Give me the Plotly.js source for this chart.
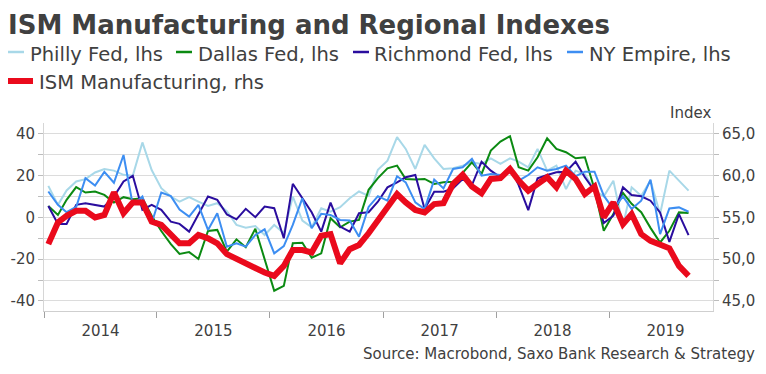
<!DOCTYPE html>
<html>
<head>
<meta charset="utf-8">
<script src="https://cdn.plot.ly/plotly-3.0.1.min.js"></script>
<style>
  html, body { margin: 0; padding: 0; background: #ffffff; }
  #chart { width: 766px; height: 374px; }
</style>
</head>
<body>
<div id="chart"></div>
<script>
// ---- data (monthly, Jan 2014 .. Sep 2019) ----
const startYear = 2014;
const startMonth = 1;
const monthCount = 69;

const phillyFed = [
  15.1, 6.0, 12.9, 17.2, 18.3, 21.5, 23.2, 22.4, 20.4, 20.0, 35.9, 22.7,
  14.0, 10.0, 7.6, 9.7, 7.6, 5.5, 6.8, 3.0, -3.6, -4.9, -4.1, -8.4,
  -3.6, -7.6, 10.0, -1.5, -4.7, 4.4, 2.8, 4.9, 9.2, 12.4, 10.3, 22.8,
  27.2, 38.4, 32.8, 23.2, 34.7, 28.3, 23.2, 23.5, 24.8, 26.4, 25.6, 28.3,
  25.6, 28.3, 26.7, 24.0, 32.8, 22.4, 24.8, 13.6, 22.4, 20.8, 12.8, 10.1,
  17.6, -4.0, 14.4, 10.4, 17.6, 1.6, 22.4, 17.6, 12.8
];
const dallasFed = [
  5.5, 1.2, 8.4, 14.5, 11.9, 12.4, 10.8, 7.1, 9.7, 8.7, 9.2, 0.8,
  -6.5, -12.8, -17.5, -16.6, -19.9, -6.5, -6.0, -16.4, -10.5, -14.3, -5.4, -20.0,
  -35.1, -32.8, -12.4, -12.1, -19.3, -17.2, -0.4, -4.7, -2.0, -1.2, 13.2, 18.8,
  23.5, 24.8, 18.4, 18.1, 18.4, 16.0, 16.8, 17.1, 21.3, 26.4, 20.8, 32.0,
  36.3, 38.9, 24.0, 22.4, 28.8, 37.9, 32.8, 31.2, 28.3, 28.8, 13.6, -6.4,
  1.6, 11.7, 6.5, 2.5, -5.0, -12.0, -6.4, 2.4, 2.1
];
const richmondFed = [
  5.5, -3.1, -3.1, 6.0, 6.8, 6.0, 5.2, 10.0, 17.2, 19.9, 3.6, 6.0,
  3.6, -2.0, -3.1, -6.8, 1.5, 10.0, 8.4, 1.4, -0.9, 4.1, 0.1, 5.2,
  4.4, -10.0, 16.1, 9.0, 2.5, -6.8, 7.1, -4.4, -6.8, 2.0, 2.5, 7.5,
  14.4, 16.8, 19.2, 20.3, 4.0, 12.3, 12.3, 13.9, 18.4, 15.5, 26.7, 22.4,
  19.2, 24.0, 15.5, 3.5, 18.7, 20.3, 21.6, 21.9, 26.7, 19.2, 12.8, -2.7,
  0.8, 14.4, 10.7, 10.1, 8.0, 2.4, -11.7, 1.6, -8.5
];
const nyEmpire = [
  12.4, 6.0, 2.5, 5.0, 18.8, 15.3, 21.8, 16.6, 29.9, 6.0, 10.0, -2.8,
  11.9, 10.2, 3.8, 0.4, 6.0, -6.0, 2.0, -14.0, -12.4, -14.0, -8.4, -5.7,
  -17.2, -13.7, -3.6, 9.2, -5.2, 1.7, 1.2, -1.2, -1.5, -9.2, 5.0, 10.2,
  8.0, 19.7, 16.8, 7.2, 4.0, 18.1, 13.9, 23.2, 24.0, 28.0, 20.0, 20.8,
  20.3, 21.6, 17.6, 20.3, 24.0, 22.4, 23.2, 24.8, 19.7, 21.9, 21.9, 10.4,
  4.0, 10.1, 4.0, 8.0, 18.1, -8.0, 4.3, 4.8, 2.7
];
const ismManufacturing = [
  51.8, 54.4, 55.2, 55.8, 55.8, 55.0, 55.3, 58.0, 55.5, 56.8, 56.8, 54.5,
  54.1, 52.9, 51.9, 51.9, 52.9, 52.5, 51.9, 50.6, 50.0, 49.6, 48.9, 48.4,
  48.0, 49.2, 51.1, 51.1, 50.8, 52.8, 53.0, 49.5, 51.2, 51.7, 53.1, 54.6,
  56.2, 57.8, 56.8, 55.9, 55.6, 56.6, 56.7, 59.0, 60.1, 58.7, 57.9, 59.6,
  59.7, 60.8, 59.4, 58.2, 59.0, 59.8, 58.6, 60.6, 59.6, 57.8, 58.7, 55.0,
  56.8, 54.2, 55.4, 53.0, 52.2, 51.8, 51.3, 49.2, 48.0
];

const seriesNames = ['Philly Fed, lhs', 'Dallas Fed, lhs', 'Richmond Fed, lhs', 'NY Empire, lhs', 'ISM Manufacturing, rhs'];
const leftTickVals = [-40, -20, 0, 20, 40];
const leftTickText = ['-40', '-20', '0', '20', '40'];
const titleText = 'ISM Manufacturing and Regional Indexes';
const sourceText = 'Source: Macrobond, Saxo Bank Research & Strategy';
const unitText = 'Index';

// ---- styles ----
const colors = ['#a8d8e8', '#0b8a12', '#2a0d9e', '#3d8ef2', '#ea0a1c'];
const widths = [2, 2, 2, 2, 6];
const FONT = 'DejaVu Sans, Verdana, sans-serif';
const TXT = '#404040';

// month dates (mid-month)
const dates = [];
for (let i = 0; i < monthCount; i++) {
  const y = startYear + Math.floor((startMonth - 1 + i) / 12);
  const m = ((startMonth - 1 + i) % 12) + 1;
  dates.push(y + '-' + String(m).padStart(2, '0') + '-15');
}

const W = 766, H = 374;
const M = { l: 44, r: 53, t: 123, b: 63 };
const PW = W - M.l - M.r, PH = H - M.t - M.b;
const px = x => (x - M.l) / PW;
const py = y => (H - M.b - y) / PH;

const leftSeries = [phillyFed, dallasFed, richmondFed, nyEmpire];
const traces = [];
traces.push({
  x: dates, y: ismManufacturing, yaxis: 'y2', type: 'scatter', mode: 'lines',
  name: seriesNames[4], line: { color: colors[4], width: widths[4] }, showlegend: false
});
leftSeries.forEach((s, i) => {
  traces.push({
    x: dates, y: s, yaxis: 'y', type: 'scatter', mode: 'lines',
    name: seriesNames[i], line: { color: colors[i], width: widths[i] }, showlegend: false
  });
});

// custom legend
const shapes = [];
const annotations = [];
const legendItems = [
  { sx: 8, ex: 24, tx: 28, y: 52 },
  { sx: 176, ex: 192, tx: 196, y: 52 },
  { sx: 353, ex: 369, tx: 372, y: 52 },
  { sx: 567, ex: 583, tx: 587, y: 52 },
  { sx: 8, ex: 33, tx: 37, y: 81 }
];
legendItems.forEach((it, i) => {
  shapes.push({
    type: 'line', xref: 'paper', yref: 'paper',
    x0: px(it.sx), x1: px(it.ex), y0: py(it.y), y1: py(it.y),
    line: { color: colors[i], width: i === 4 ? 6 : 2.5 }
  });
  annotations.push({
    xref: 'paper', yref: 'paper', x: px(it.tx), y: py(it.y + 2),
    xanchor: 'left', yanchor: 'middle', showarrow: false,
    text: seriesNames[i], font: { family: FONT, size: 19.5, color: TXT }
  });
});
annotations.push({
  xref: 'paper', yref: 'paper', x: px(713), y: py(113),
  xanchor: 'right', yanchor: 'middle', showarrow: false,
  text: unitText, font: { family: FONT, size: 15, color: TXT }
});
annotations.push({
  xref: 'paper', yref: 'paper', x: px(757), y: py(354),
  xanchor: 'right', yanchor: 'middle', showarrow: false,
  text: sourceText, font: { family: FONT, size: 15, color: TXT }
});

const layout = {
  width: W, height: H,
  margin: M,
  paper_bgcolor: '#ffffff', plot_bgcolor: '#ffffff',
  separators: ',.',
  showlegend: false,
  font: { family: FONT, size: 15, color: TXT },
  title: {
    text: '<b>' + titleText + '</b>',
    x: 8 / W, xanchor: 'left', xref: 'container',
    y: 1 - 25 / H, yanchor: 'middle', yref: 'container',
    font: { family: FONT, size: 26, color: TXT }
  },
  xaxis: {
    type: 'date',
    range: ['2014-01-01', '2019-12-03'],
    tick0: '2014-01-01', dtick: 'M12', tickformat: '%Y',
    ticklabelmode: 'period',
    ticks: 'outside', ticklen: 6, tickcolor: '#a0a0a0', tickwidth: 1,
    showline: true, linecolor: '#cfcfcf', linewidth: 1,
    showgrid: false, zeroline: false,
    tickfont: { family: FONT, size: 15, color: TXT }
  },
  yaxis: {
    range: [-44.8, 45.2],
    tickmode: 'array', tickvals: leftTickVals, ticktext: leftTickText,
    ticks: 'outside', ticklen: 5, tickcolor: '#bdbdbd',
    showgrid: true, gridcolor: '#dcdcdc', gridwidth: 1,
    zeroline: false,
    showline: true, linecolor: '#d6d6d6', linewidth: 1,
    minor: { tickmode: 'linear', tick0: 0, dtick: 10, ticks: 'outside', ticklen: 5, tickcolor: '#bdbdbd', showgrid: true, gridcolor: '#dcdcdc', gridwidth: 1 },
    tickfont: { family: FONT, size: 15, color: TXT }
  },
  yaxis2: {
    overlaying: 'y', side: 'right',
    range: [43.8, 66.3],
    tick0: 45, dtick: 5, tickformat: '.1f',
    ticks: 'outside', ticklen: 5, tickcolor: '#bdbdbd',
    showgrid: false, zeroline: false,
    showline: true, linecolor: '#d6d6d6', linewidth: 1,
    minor: { tick0: 45, dtick: 2.5, ticks: 'outside', ticklen: 5, tickcolor: '#bdbdbd', showgrid: false },
    tickfont: { family: FONT, size: 15, color: TXT }
  },
  shapes: shapes,
  annotations: annotations
};

Plotly.newPlot('chart', traces, layout, { displayModeBar: false, staticPlot: true });
</script>
</body>
</html>
